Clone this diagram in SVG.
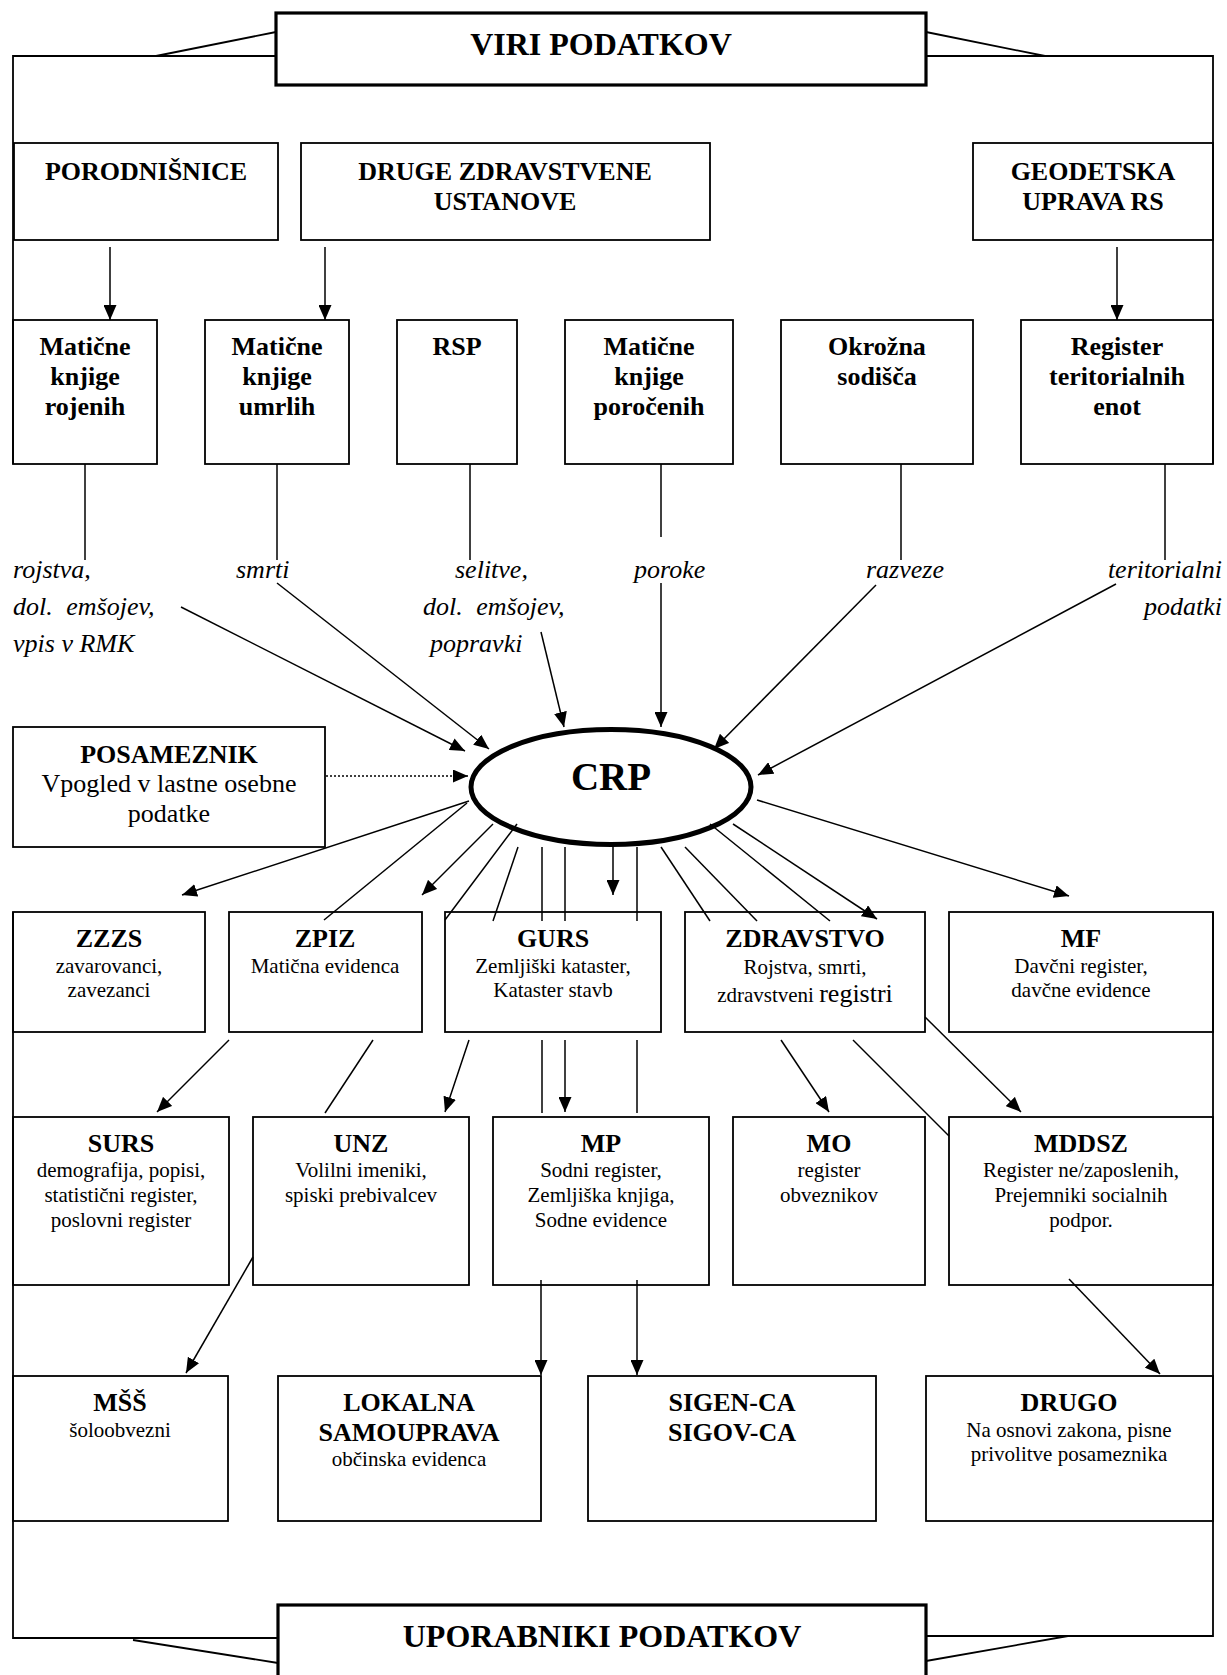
<svg xmlns="http://www.w3.org/2000/svg" width="1227" height="1675" viewBox="0 0 1227 1675">
<style>
.bx{fill:none;stroke:#000;stroke-width:1.8}
.bb{fill:none;stroke:#000;stroke-width:3.2}
.ln{fill:none;stroke:#000;stroke-width:1.5}
.fr{fill:none;stroke:#000;stroke-width:1.8}
.ar{marker-end:url(#ah)}
text{font-family:"Liberation Serif","Times New Roman",serif;fill:#000}
.hd{font-size:32px;font-weight:bold;text-anchor:middle}
.t{font-size:26px;font-weight:bold;text-anchor:middle}
.s{font-size:21px;text-anchor:middle}
.it{font-size:26px;font-style:italic}
.crp{font-size:39px;font-weight:bold;text-anchor:middle}
.ps{font-size:26px;text-anchor:middle}
</style>
<defs>
<marker id="ah" markerUnits="userSpaceOnUse" markerWidth="15" markerHeight="13" refX="15" refY="6.5" orient="auto">
<path d="M0,0 L15,6.5 L0,13 z" fill="#000"/>
</marker>
</defs>
<rect width="1227" height="1675" fill="#fff"/>

<g id="frame">
<polyline class="fr" points="276,56 13,56 13,464"/>
<polyline class="fr" points="13,912 13,1638 278,1638"/>
<line class="fr" x1="156" y1="56" x2="276" y2="32"/>
<polyline class="fr" points="926,56 1213,56 1213,464"/>
<polyline class="fr" points="1213,912 1213,1636 926,1636"/>
<line class="fr" x1="926" y1="32" x2="1045" y2="56"/>
<line class="fr" x1="133" y1="1640" x2="278" y2="1663"/>
<line class="fr" x1="926" y1="1661" x2="1068" y2="1636"/>
</g>

<g id="viri">
<rect class="bb" x="276" y="13" width="650" height="72" fill="#fff"/>
<text class="hd" x="601" y="55">VIRI PODATKOV</text>
</g>
<g id="uporabniki">
<rect class="bb" x="278" y="1605" width="648" height="90" fill="#fff"/>
<text class="hd" x="602" y="1647">UPORABNIKI PODATKOV</text>
</g>

<!-- Row 1 -->
<g id="porodnisnice">
<rect class="bx" x="14" y="143" width="264" height="97"/>
<text class="t" x="146" y="180">PORODNIŠNICE</text>
</g>
<g id="druge">
<rect class="bx" x="301" y="143" width="409" height="97"/>
<text class="t" x="505" y="180">DRUGE ZDRAVSTVENE</text>
<text class="t" x="505" y="210">USTANOVE</text>
</g>
<g id="geodetska">
<rect class="bx" x="973" y="143" width="240" height="97"/>
<text class="t" x="1093" y="180">GEODETSKA</text>
<text class="t" x="1093" y="210">UPRAVA RS</text>
</g>

<!-- Row 2 -->
<g id="mk-rojenih">
<rect class="bx" x="13" y="320" width="144" height="144"/>
<text class="t" x="85" y="355">Matične</text>
<text class="t" x="85" y="385">knjige</text>
<text class="t" x="85" y="415">rojenih</text>
</g>
<g id="mk-umrlih">
<rect class="bx" x="205" y="320" width="144" height="144"/>
<text class="t" x="277" y="355">Matične</text>
<text class="t" x="277" y="385">knjige</text>
<text class="t" x="277" y="415">umrlih</text>
</g>
<g id="rsp">
<rect class="bx" x="397" y="320" width="120" height="144"/>
<text class="t" x="457" y="355">RSP</text>
</g>
<g id="mk-porocenih">
<rect class="bx" x="565" y="320" width="168" height="144"/>
<text class="t" x="649" y="355">Matične</text>
<text class="t" x="649" y="385">knjige</text>
<text class="t" x="649" y="415">poročenih</text>
</g>
<g id="okrozna">
<rect class="bx" x="781" y="320" width="192" height="144"/>
<text class="t" x="877" y="355">Okrožna</text>
<text class="t" x="877" y="385">sodišča</text>
</g>
<g id="rte">
<rect class="bx" x="1021" y="320" width="192" height="144"/>
<text class="t" x="1117" y="355">Register</text>
<text class="t" x="1117" y="385">teritorialnih</text>
<text class="t" x="1117" y="415">enot</text>
</g>

<!-- Flow labels -->
<g id="labels">
<text class="it" x="13" y="578">rojstva,</text>
<text class="it" x="13" y="615" word-spacing="7">dol. emšojev,</text>
<text class="it" x="13" y="652">vpis v RMK</text>
<text class="it" x="236" y="578">smrti</text>
<text class="it" x="455" y="578">selitve,</text>
<text class="it" x="423" y="615" word-spacing="7">dol. emšojev,</text>
<text class="it" x="430" y="652">popravki</text>
<text class="it" x="634" y="578">poroke</text>
<text class="it" x="866" y="578">razveze</text>
<text class="it" x="1222" y="578" text-anchor="end">teritorialni</text>
<text class="it" x="1222" y="615" text-anchor="end">podatki</text>
</g>

<!-- CRP -->
<g id="crp">
<ellipse cx="611" cy="787" rx="140" ry="57.5" fill="none" stroke="#000" stroke-width="5"/>
<text class="crp" x="611" y="790">CRP</text>
</g>

<g id="posameznik">
<rect class="bx" x="13" y="727" width="312" height="120"/>
<text class="t" x="169" y="763">POSAMEZNIK</text>
<text class="ps" x="169" y="792">Vpogled v lastne osebne</text>
<text class="ps" x="169" y="822">podatke</text>
</g>

<!-- Row 3 -->
<g id="zzzs">
<rect class="bx" x="13" y="912" width="192" height="120"/>
<text class="t" x="109" y="947">ZZZS</text>
<text class="s" x="109" y="973">zavarovanci,</text>
<text class="s" x="109" y="997">zavezanci</text>
</g>
<g id="zpiz">
<rect class="bx" x="229" y="912" width="193" height="120"/>
<text class="t" x="325" y="947">ZPIZ</text>
<text class="s" x="325" y="973">Matična evidenca</text>
</g>
<g id="gurs">
<rect class="bx" x="445" y="912" width="216" height="120"/>
<text class="t" x="553" y="947">GURS</text>
<text class="s" x="553" y="973">Zemljiški kataster,</text>
<text class="s" x="553" y="997">Kataster stavb</text>
</g>
<g id="zdravstvo">
<rect class="bx" x="685" y="912" width="240" height="120"/>
<text class="t" x="805" y="947">ZDRAVSTVO</text>
<text class="s" x="805" y="974">Rojstva, smrti,</text>
<text class="s" x="805" y="1002">zdravstveni <tspan font-size="26">registri</tspan></text>
</g>
<g id="mf">
<rect class="bx" x="949" y="912" width="264" height="120"/>
<text class="t" x="1081" y="947">MF</text>
<text class="s" x="1081" y="973">Davčni register,</text>
<text class="s" x="1081" y="997">davčne evidence</text>
</g>

<!-- Row 4 -->
<g id="surs">
<rect class="bx" x="13" y="1117" width="216" height="168"/>
<text class="t" x="121" y="1152">SURS</text>
<text class="s" x="121" y="1177">demografija, popisi,</text>
<text class="s" x="121" y="1202">statistični register,</text>
<text class="s" x="121" y="1227">poslovni register</text>
</g>
<g id="unz">
<rect class="bx" x="253" y="1117" width="216" height="168"/>
<text class="t" x="361" y="1152">UNZ</text>
<text class="s" x="361" y="1177">Volilni imeniki,</text>
<text class="s" x="361" y="1202">spiski prebivalcev</text>
</g>
<g id="mp">
<rect class="bx" x="493" y="1117" width="216" height="168"/>
<text class="t" x="601" y="1152">MP</text>
<text class="s" x="601" y="1177">Sodni register,</text>
<text class="s" x="601" y="1202">Zemljiška knjiga,</text>
<text class="s" x="601" y="1227">Sodne evidence</text>
</g>
<g id="mo">
<rect class="bx" x="733" y="1117" width="192" height="168"/>
<text class="t" x="829" y="1152">MO</text>
<text class="s" x="829" y="1177">register</text>
<text class="s" x="829" y="1202">obveznikov</text>
</g>
<g id="mddsz">
<rect class="bx" x="949" y="1117" width="264" height="168"/>
<text class="t" x="1081" y="1152">MDDSZ</text>
<text class="s" x="1081" y="1177">Register ne/zaposlenih,</text>
<text class="s" x="1081" y="1202">Prejemniki socialnih</text>
<text class="s" x="1081" y="1227">podpor.</text>
</g>

<!-- Row 5 -->
<g id="mss">
<rect class="bx" x="13" y="1376" width="215" height="145"/>
<text class="t" x="120" y="1411">MŠŠ</text>
<text class="s" x="120" y="1437">šoloobvezni</text>
</g>
<g id="lokalna">
<rect class="bx" x="278" y="1376" width="263" height="145"/>
<text class="t" x="409" y="1411">LOKALNA</text>
<text class="t" x="409" y="1441">SAMOUPRAVA</text>
<text class="s" x="409" y="1466">občinska evidenca</text>
</g>
<g id="sigen">
<rect class="bx" x="588" y="1376" width="288" height="145"/>
<text class="t" x="732" y="1411">SIGEN-CA</text>
<text class="t" x="732" y="1441">SIGOV-CA</text>
</g>
<g id="drugo">
<rect class="bx" x="926" y="1376" width="287" height="145"/>
<text class="t" x="1069" y="1411">DRUGO</text>
<text class="s" x="1069" y="1437">Na osnovi zakona, pisne</text>
<text class="s" x="1069" y="1461">privolitve posameznika</text>
</g>

<g id="connectors">
<!-- row1 to row2 -->
<line class="ln ar" x1="110" y1="247" x2="110" y2="320"/>
<line class="ln ar" x1="325" y1="247" x2="325" y2="320"/>
<line class="ln ar" x1="1117" y1="247" x2="1117" y2="320"/>
<!-- row2 down to labels -->
<line class="ln" x1="85" y1="464" x2="85" y2="560"/>
<line class="ln" x1="277" y1="464" x2="277" y2="560"/>
<line class="ln" x1="470" y1="464" x2="470" y2="560"/>
<line class="ln" x1="661" y1="464" x2="661" y2="537"/>
<line class="ln" x1="901" y1="464" x2="901" y2="560"/>
<line class="ln" x1="1165" y1="464" x2="1165" y2="560"/>
<!-- labels to CRP -->
<line class="ln ar" x1="181" y1="607" x2="465" y2="751"/>
<line class="ln ar" x1="277" y1="583" x2="489" y2="749"/>
<line class="ln ar" x1="541" y1="632" x2="564" y2="727"/>
<line class="ln ar" x1="661" y1="583" x2="661" y2="727"/>
<line class="ln ar" x1="876" y1="585" x2="714" y2="749"/>
<line class="ln ar" x1="1116" y1="584" x2="758" y2="775"/>
<!-- posameznik -->
<line class="ln ar" x1="326" y1="776" x2="468" y2="776" stroke-dasharray="2,2"/>
<!-- CRP to row 3 -->
<line class="ln ar" x1="469" y1="801" x2="182" y2="895"/>
<line class="ln" x1="467" y1="803" x2="324" y2="920"/>
<line class="ln ar" x1="493" y1="824" x2="422" y2="895"/>
<line class="ln" x1="517" y1="824" x2="445" y2="920"/>
<line class="ln" x1="518" y1="847" x2="493" y2="921"/>
<line class="ln" x1="542" y1="847" x2="542" y2="921"/>
<line class="ln" x1="565" y1="847" x2="565" y2="921"/>
<line class="ln ar" x1="613" y1="845" x2="613" y2="895"/>
<line class="ln" x1="637" y1="847" x2="637" y2="921"/>
<line class="ln" x1="661" y1="847" x2="710" y2="921"/>
<line class="ln" x1="685" y1="847" x2="757" y2="921"/>
<line class="ln" x1="710" y1="824" x2="830" y2="921"/>
<line class="ln ar" x1="733" y1="824" x2="877" y2="919"/>
<line class="ln ar" x1="757" y1="800" x2="1069" y2="896"/>
<!-- row 3 to row 4 -->
<line class="ln ar" x1="229" y1="1040" x2="157" y2="1112"/>
<line class="ln" x1="373" y1="1040" x2="325" y2="1113"/>
<line class="ln ar" x1="469" y1="1040" x2="445" y2="1112"/>
<line class="ln" x1="542" y1="1040" x2="542" y2="1113"/>
<line class="ln ar" x1="565" y1="1040" x2="565" y2="1112"/>
<line class="ln" x1="637" y1="1040" x2="637" y2="1113"/>
<line class="ln ar" x1="781" y1="1040" x2="829" y2="1112"/>
<line class="ln" x1="853" y1="1040" x2="949" y2="1136"/>
<line class="ln ar" x1="925" y1="1017" x2="1021" y2="1112"/>
<!-- row 4 to row 5 -->
<line class="ln ar" x1="253" y1="1257" x2="186" y2="1373"/>
<line class="ln ar" x1="541" y1="1280" x2="541" y2="1375"/>
<line class="ln ar" x1="637" y1="1280" x2="637" y2="1375"/>
<line class="ln ar" x1="1069" y1="1279" x2="1160" y2="1374"/>
</g>
</svg>
